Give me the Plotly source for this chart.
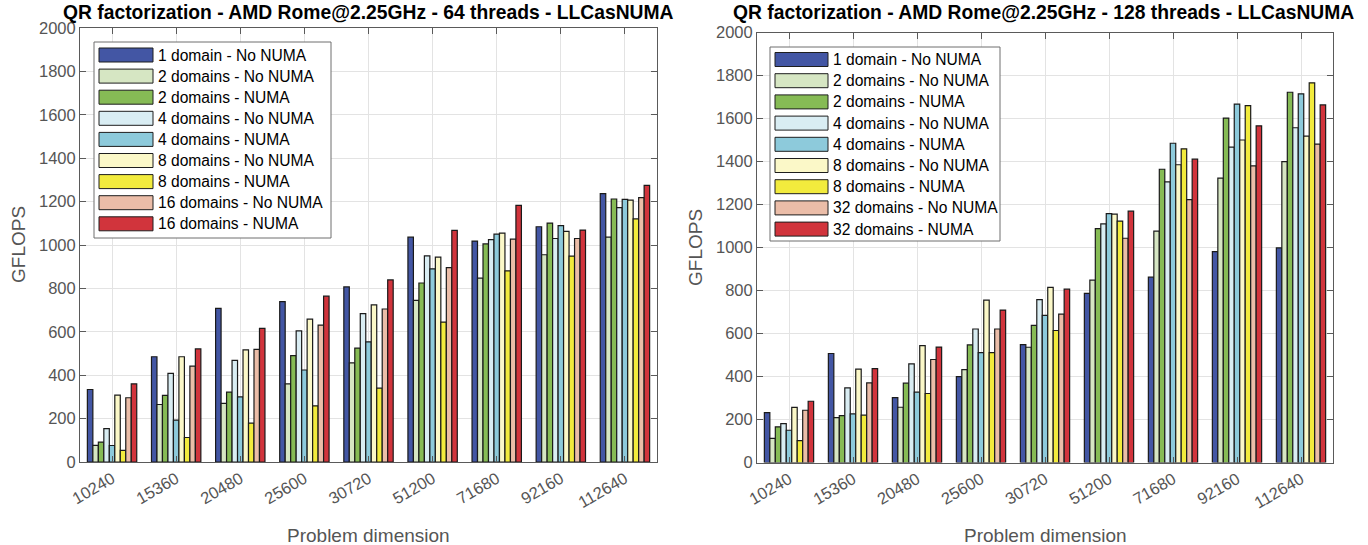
import plotly.graph_objects as go

W, H = 1368, 545

# Problem sizes (x categories)
sizes = ["10240", "15360", "20480", "25600", "30720", "51200", "71680", "92160", "112640"]

# 64 threads configurations (GFLOPS)
names_64 = ["1 domain - No NUMA", "2 domains - No NUMA", "2 domains - NUMA",
            "4 domains - No NUMA", "4 domains - NUMA", "8 domains - No NUMA",
            "8 domains - NUMA", "16 domains - No NUMA", "16 domains - NUMA"]
d1_nonuma_64 = [334, 485, 708, 739, 807, 1036, 1018, 1084, 1237]
d2_nonuma_64 = [77, 265, 270, 360, 457, 745, 847, 955, 1036]
d2_numa_64 = [92, 307, 322, 490, 525, 825, 1005, 1101, 1212]
d4_nonuma_64 = [154, 408, 468, 604, 684, 950, 1025, 1030, 1172]
d4_numa_64 = [76, 193, 300, 424, 554, 890, 1050, 1089, 1210]
d8_nonuma_64 = [308, 485, 517, 658, 724, 944, 1055, 1063, 1207]
d8_numa_64 = [54, 113, 179, 259, 340, 645, 881, 949, 1120]
d16_nonuma_64 = [296, 442, 519, 631, 705, 896, 1027, 1030, 1218]
d16_numa_64 = [360, 521, 616, 764, 839, 1067, 1183, 1069, 1275]
series_64 = [d1_nonuma_64, d2_nonuma_64, d2_numa_64, d4_nonuma_64, d4_numa_64,
             d8_nonuma_64, d8_numa_64, d16_nonuma_64, d16_numa_64]

# 128 threads configurations (GFLOPS)
names_128 = ["1 domain - No NUMA", "2 domains - No NUMA", "2 domains - NUMA",
             "4 domains - No NUMA", "4 domains - NUMA", "8 domains - No NUMA",
             "8 domains - NUMA", "32 domains - No NUMA", "32 domains - NUMA"]
d1_nonuma_128 = [232, 507, 302, 399, 548, 787, 862, 981, 998]
d2_nonuma_128 = [112, 209, 257, 432, 536, 848, 1076, 1323, 1399]
d2_numa_128 = [166, 218, 369, 547, 638, 1088, 1364, 1602, 1722]
d4_nonuma_128 = [181, 347, 459, 621, 758, 1110, 1305, 1467, 1557]
d4_numa_128 = [150, 226, 327, 511, 684, 1158, 1485, 1667, 1715]
d8_nonuma_128 = [256, 434, 544, 755, 815, 1155, 1385, 1500, 1518]
d8_numa_128 = [102, 220, 321, 511, 614, 1123, 1459, 1660, 1766]
d32_nonuma_128 = [243, 370, 479, 621, 690, 1043, 1223, 1380, 1481]
d32_numa_128 = [285, 437, 537, 709, 806, 1169, 1411, 1566, 1663]
series_128 = [d1_nonuma_128, d2_nonuma_128, d2_numa_128, d4_nonuma_128, d4_numa_128,
              d8_nonuma_128, d8_numa_128, d32_nonuma_128, d32_numa_128]

colors = ["#4356A4", "#D6E6C3", "#86BB55", "#D9EDF3", "#8DCADB",
          "#FBF8C8", "#F2EB3D", "#EBBDA8", "#D1343C"]

FONT = "Liberation Sans, Arial, sans-serif"
GRAY = "#555555"


def px_x(p):
    return p / W


def px_y(p):
    return 1 - p / H


fig = go.Figure()

for names, series, xa, ya in [(names_64, series_64, "x", "y"),
                              (names_128, series_128, "x2", "y2")]:
    for name, vals, col in zip(names, series, colors):
        fig.add_trace(go.Bar(
            x=sizes, y=vals, name=name, xaxis=xa, yaxis=ya, showlegend=False,
            marker=dict(color=col, line=dict(color="#1A1A1A", width=1.2)),
        ))

axis_common = dict(
    showline=True, linecolor="#5A5A5A", linewidth=1, mirror="ticks",
    ticks="inside", ticklen=6, tickcolor="#5A5A5A",
    showgrid=True, gridcolor="#E3E3E3", gridwidth=1,
    tickfont=dict(family=FONT, size=16.5, color=GRAY),
    zeroline=False, automargin=False,
)

fig.update_layout(
    width=W, height=H,
    margin=dict(l=0, r=0, t=0, b=0),
    paper_bgcolor="white", plot_bgcolor="white",
    barmode="group", bargap=0.23, bargroupgap=0.0,
    xaxis=dict(domain=[px_x(80), px_x(657)], anchor="y", type="category",
               tickangle=-30, **axis_common),
    yaxis=dict(domain=[px_y(462), px_y(28)], anchor="x", range=[0, 2000],
               dtick=200, **axis_common),
    xaxis2=dict(domain=[px_x(757), px_x(1333)], anchor="y2", type="category",
                tickangle=-30, **axis_common),
    yaxis2=dict(domain=[px_y(462.5), px_y(32.5)], anchor="x2", range=[0, 2000],
                dtick=200, **axis_common),
)

annotations = []
shapes = []

# Titles and axis labels
for cx, ty, txt in [(368, 12, "QR factorization - AMD Rome@2.25GHz - 64 threads - LLCasNUMA"),
                    (1043, 13, "QR factorization - AMD Rome@2.25GHz - 128 threads - LLCasNUMA")]:
    annotations.append(dict(x=px_x(cx), y=px_y(ty), xref="paper", yref="paper",
                            text="<b>" + txt + "</b>", showarrow=False,
                            font=dict(family=FONT, size=19.3, color="black"),
                            xanchor="center", yanchor="middle"))
for cx in (368, 1045):
    annotations.append(dict(x=px_x(cx), y=px_y(535), xref="paper", yref="paper",
                            text="Problem dimension", showarrow=False,
                            font=dict(family=FONT, size=19, color=GRAY),
                            xanchor="center", yanchor="middle"))
for cx, cy in ((19, 245), (695, 248)):
    annotations.append(dict(x=px_x(cx), y=px_y(cy), xref="paper", yref="paper",
                            text="GFLOPS", showarrow=False, textangle=-90,
                            font=dict(family=FONT, size=19, color=GRAY),
                            xanchor="center", yanchor="middle"))


# Boxed legends with wide colour swatches
def add_legend(names, box, sw_x0, sw_x1, row0, step):
    bx0, by0, bx1, by1 = box
    shapes.append(dict(type="rect", xref="paper", yref="paper",
                       x0=px_x(bx0), x1=px_x(bx1), y0=px_y(by1), y1=px_y(by0),
                       line=dict(color="#6E6E6E", width=1), fillcolor="white",
                       layer="above"))
    for i, (name, col) in enumerate(zip(names, colors)):
        cy = row0 + i * step
        shapes.append(dict(type="rect", xref="paper", yref="paper",
                           x0=px_x(sw_x0), x1=px_x(sw_x1),
                           y0=px_y(cy + 7), y1=px_y(cy - 7),
                           line=dict(color="#1E1E1E", width=1), fillcolor=col,
                           layer="above"))
        annotations.append(dict(x=px_x(sw_x1 + 3), y=px_y(cy), xref="paper", yref="paper",
                                text=name, showarrow=False,
                                font=dict(family=FONT, size=15.6, color="black"),
                                xanchor="left", yanchor="middle"))


add_legend(names_64, (94, 42, 331, 238), 99, 153, 55, 21.1)
add_legend(names_128, (770, 47, 1000, 241), 775, 828, 59.5, 21.2)

fig.update_layout(annotations=annotations, shapes=shapes)

fig.write_html("out.html")
